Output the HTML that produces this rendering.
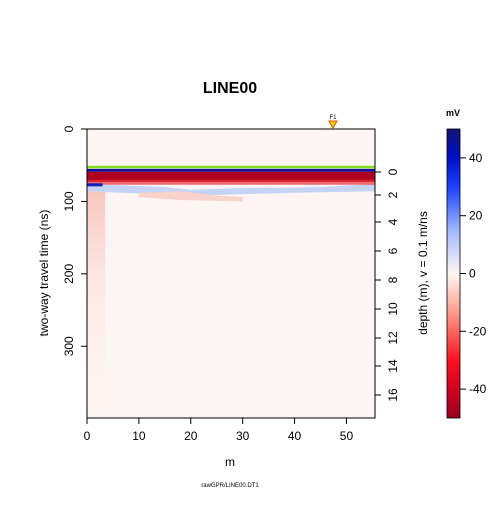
<!DOCTYPE html>
<html><head><meta charset="utf-8"><style>
body{margin:0;background:#fff}
svg text{font-family:"Liberation Sans",sans-serif;fill:#000}
</style></head><body>
<svg id="c" width="504" height="504" xmlns="http://www.w3.org/2000/svg">
<defs>
<linearGradient id="cb" x1="0" y1="1" x2="0" y2="0">
<stop offset="0" stop-color="#99001f"/><stop offset="0.1" stop-color="#d50020"/><stop offset="0.2" stop-color="#ff1020"/>
<stop offset="0.35" stop-color="#ff8f80"/><stop offset="0.5" stop-color="#fff7f2"/><stop offset="0.65" stop-color="#9fb8ff"/>
<stop offset="0.8" stop-color="#1a40ff"/><stop offset="0.9" stop-color="#0010c8"/><stop offset="1" stop-color="#12127a"/>
</linearGradient>
<linearGradient id="lowfade" x1="0" y1="0" x2="0" y2="1">
<stop offset="0" stop-color="#f6b0a4" stop-opacity="0.7"/><stop offset="0.4" stop-color="#fbd8d0" stop-opacity="0.5"/><stop offset="1" stop-color="#fdeeea" stop-opacity="0"/>
</linearGradient>
<linearGradient id="lowfadeX" x1="0" y1="0" x2="1" y2="0">
<stop offset="0" stop-color="#fff" stop-opacity="0"/><stop offset="1" stop-color="#fdf5f3" stop-opacity="1"/>
</linearGradient>
</defs>
<g id="plot"></g>
<text x="230" y="93" font-size="16" font-weight="bold" text-anchor="middle">LINE00</text>
<text x="230" y="466" font-size="12" text-anchor="middle">m</text>
<text x="230" y="487" font-size="6" text-anchor="middle">rawGPR/LINE00.DT1</text>
<text transform="translate(48,273) rotate(-90)" font-size="12" text-anchor="middle">two-way travel time (ns)</text>
<text transform="translate(427,273) rotate(-90)" font-size="12" text-anchor="middle">depth (m),  v = 0.1 m/ns</text>
<text x="453" y="116" font-size="9" font-weight="bold" text-anchor="middle">mV</text>
<rect x="447" y="129" width="13" height="289" fill="url(#cb)" stroke="#000" stroke-width="0.8"/>
<text x="333" y="119" font-size="6" text-anchor="middle" fill="#333">F1</text>
<polygon points="329,121 337,121 333,128" fill="#ffd000" stroke="#e05000" stroke-width="1"/>
</svg>
<script>
const xTicks=[0,10,20,30,40,50];
const tTicks=[0,100,200,300];
const depthTicks=[0,2,4,6,8,10,12,14,16];
const depthTickY=[0,23,50,79,108,137,166,194,223];
const cbTicks=[40,20,0,-20,-40];
const xMax=55.5, tMax=399, cbMin=-50, cbMax=50;
const L=87,R=375,T=129,B=418;
const sx=v=>L+v/xMax*(R-L);
const st=v=>T+v/tMax*(B-T);
const sc=v=>B-(v-cbMin)/(cbMax-cbMin)*(B-T);
const NS="http://www.w3.org/2000/svg";
const svg=document.getElementById('c');
const plot=document.getElementById('plot');
function mk(tag,attrs,parent){const e=document.createElementNS(NS,tag);for(const k in attrs)e.setAttribute(k,attrs[k]);(parent||svg).appendChild(e);return e;}
let bg=mk('rect',{x:L,y:T,width:R-L,height:B-T,fill:'#fdf5f3'},plot);


let fade=mk('rect',{x:L,y:st(80),width:sx(3.5)-L,height:B-st(80),fill:'url(#lowfade)'},plot);


let b2=mk('path',{d:`M${L},${st(76)} L${sx(15)},${st(80)} L${sx(20)},${st(84)} L${sx(28)},${st(82)} L${sx(45)},${st(80)} L${R},${st(76)} L${R},${st(86)} L${sx(40)},${st(88)} L${sx(20)},${st(92)} L${L},${st(86)}Z`,fill:'#c5d4f5'},plot);


let b3=mk('path',{d:`M${sx(10)},${st(88)} L${sx(18)},${st(86)} L${sx(25)},${st(92)} L${sx(30)},${st(94)} L${sx(30)},${st(100)} L${sx(18)},${st(98)} L${sx(10)},${st(94)}Z`,fill:'#f9d2ca'},plot);


let b4=mk('rect',{x:L,y:st(59),width:R-L,height:st(73)-st(59),fill:'#b00020'},plot);


let b4b=mk('rect',{x:L,y:st(70),width:R-L,height:st(77)-st(70),fill:'#e8303a',opacity:0.7},plot);


let b5=mk('rect',{x:L,y:st(55),width:R-L,height:st(59)-st(55),fill:'#10109a'},plot);


let b6=mk('rect',{x:L,y:st(75),width:sx(3)-L,height:3,fill:'#1020b0'},plot);


let gl=mk('line',{x1:L,x2:R,y1:st(52.5),y2:st(52.5),stroke:'#80e020','stroke-width':2.5},plot);


let fr=mk('rect',{x:L,y:T,width:R-L,height:B-T,fill:'none',stroke:'#000','stroke-width':1},plot);


xTicks.forEach(v=>{const x=sx(v);
 let t=mk('line',{x1:x,x2:x,y1:B,y2:B+6,stroke:'#000'});
 let l=mk('text',{x:x,y:B+22,'font-size':12,'text-anchor':'middle'});l.textContent=v;});
tTicks.forEach(v=>{const y=st(v);
 let t=mk('line',{x1:L-6,x2:L,y1:y,y2:y,stroke:'#000'});
 let l=mk('text',{'font-size':12,'text-anchor':'middle',transform:`translate(${L-14},${y}) rotate(-90)`});l.textContent=v;});
depthTicks.forEach((v,i)=>{const y=172+depthTickY[i];
 let t=mk('line',{x1:R,x2:R+6,y1:y,y2:y,stroke:'#000'});
 let l=mk('text',{'font-size':12,'text-anchor':'middle',transform:`translate(${R+22},${y}) rotate(-90)`});l.textContent=v;});
cbTicks.forEach(v=>{const y=sc(v);
 let t=mk('line',{x1:460,x2:466,y1:y,y2:y,stroke:'#000'});
 let l=mk('text',{x:469,y:y+4,'font-size':12});l.textContent=v;});
</script>
</body></html>
